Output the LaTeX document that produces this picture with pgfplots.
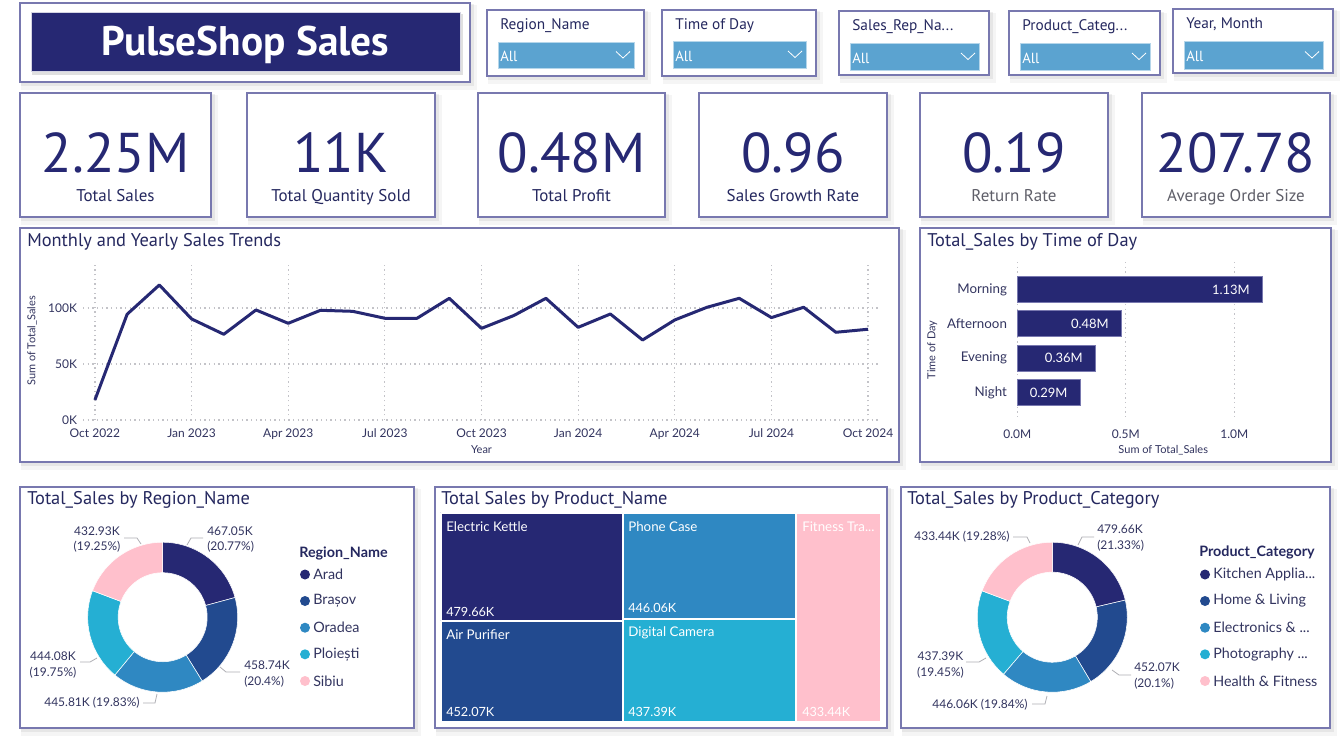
\documentclass[border=0pt]{standalone}
\usepackage{fontspec}
\setmainfont{Lato}
\newfontfamily\din{PT Sans}
\usepackage{pgfplots}
\pgfplotsset{compat=1.18}
\definecolor{navy}{RGB}{38,40,115}
\definecolor{c2}{RGB}{34,74,143}
\definecolor{c3}{RGB}{47,136,194}
\definecolor{c4}{RGB}{37,175,211}
\definecolor{c5}{RGB}{255,192,204}
\definecolor{border}{RGB}{120,120,175}
\definecolor{txt}{RGB}{37,40,95}
\definecolor{tickc}{RGB}{50,52,95}
\definecolor{ddfill}{RGB}{91,163,208}
\definecolor{gridc}{RGB}{195,195,200}
\definecolor{graytxt}{RGB}{95,95,105}
\definecolor{leader}{RGB}{175,175,180}

\newcommand\panel[4]{%
  \fill[black,opacity=0.04] (#1+1,#2+2) rectangle (#3+7,#4+8);
  \fill[black,opacity=0.06] (#1+1,#2+1) rectangle (#3+4,#4+4);
  \filldraw[fill=white,draw=border,line width=0.9pt] (#1,#2) rectangle (#3,#4);}
\newcommand\filt[7]{%
  \panel{#1}{#2}{#3}{#4}
  \node[anchor=west,inner sep=0pt,font=\din\fontsize{11.5}{12}\selectfont,text=txt] at (#1+13,#2+15.5) {#5};
  \filldraw[fill=ddfill,draw=ddfill!45,line width=0.6pt] (#1+11,#6) rectangle (#3-10,#7);
  \node[anchor=west,inner sep=0pt,font=\din\fontsize{11}{11}\selectfont,text=white] at (#1+13,{(#6+#7)/2+1.5}) {All};
  \draw[white,line width=0.6pt] (#3-28,{(#6+#7)/2-3.5}) -- ++(7,6.5) -- ++(7,-6.5);}
\newcommand\kpil[3]{%
  \node[font=\din\fontsize{12.75}{14}\selectfont,text=#3,inner sep=0pt,anchor=base] at (#1,201.5) {#2};}
\newcommand\ptitle[3]{%
  \node[anchor=west,inner sep=0pt,font=\din\fontsize{13.8}{15}\selectfont,text=txt] at (#1,#2+1.5) {#3};}
% donut drawn inside an axis from the percentage shares
\newcommand\donut[3]{%
  \pgfplotsextra{%
    \gdef\donutA{90}%
    \foreach \v/\c in {#1}{%
      \pgfmathsetmacro\donutB{\donutA-3.6*\v}%
      \pgfmathsetmacro\donutD{#3-#2}%
      \filldraw[fill=\c,draw=white,line width=0.4pt] (axis cs:0,0) ++(\donutA:#2pt)
        arc[start angle=\donutA,end angle=\donutB,radius=#2pt]
        -- ++(\donutB:\donutD pt)
        arc[start angle=\donutB,end angle=\donutA,radius=#3pt] -- cycle;
      \xdef\donutA{\donutB}%
    }}}

\begin{document}
\begin{tikzpicture}
\begin{scope}[x=0.75pt,y=-0.75pt]
\path[use as bounding box] (0,0) rectangle (1342,744);
\fill[white] (0,0) rectangle (1342,744);
% title
\panel{20}{3}{470}{82}
\fill[black,opacity=0.12] (32,14) rectangle (463,75);
\fill[navy] (31,12) rectangle (460,71);
\draw[white!80!navy,line width=0.6pt] (31,12) rectangle (460,71);
\node[font=\din\bfseries\fontsize{31}{32}\selectfont,text=white,inner sep=0pt,anchor=base] at (245.5,55) {PulseShop Sales};
% filters
\filt{487}{10}{644}{76}{Region\_Name}{42}{68}
\filt{662}{10}{816}{76}{Time of Day}{41}{68}
\filt{839}{11}{989}{75}{Sales\_Rep\_Na...}{43}{70}
\filt{1009}{11}{1160}{75}{Product\_Categ...}{43}{70}
\filt{1173}{9}{1333}{73}{Year, Month}{41}{69}
% KPI cards
\panel{20}{93}{211}{217}
\panel{247}{93}{435}{217}
\panel{478}{93}{665}{217}
\panel{699}{93}{887}{217}
\panel{920}{93}{1108}{217}
\panel{1142}{93}{1330}{217}
\begin{scope}[every node/.style={font=\din\fontsize{42}{44}\selectfont,text=navy,inner sep=0pt,anchor=base}]
\node at (115.5,172) {2.25M};
\node at (341,172) {11K};
\node at (571.5,172) {0.48M};
\node at (793,172) {0.96};
\node at (1014,172) {0.19};
\node at (1236,172) {207.78};
\end{scope}
\kpil{115.5}{Total Sales}{txt}
\kpil{341}{Total Quantity Sold}{txt}
\kpil{571.5}{Total Profit}{txt}
\kpil{793}{Sales Growth Rate}{txt}
\kpil{1014}{Return Rate}{graytxt}
\kpil{1236}{Average Order Size}{graytxt}
% chart panels
\panel{20}{228}{899}{462}
\panel{920}{228}{1331}{462}
\panel{20}{487}{414}{728}
\panel{435}{487}{887}{728}
\panel{901}{487}{1330}{728}
\ptitle{27}{240}{Monthly and Yearly Sales Trends}
\ptitle{927}{240}{Total\_Sales by Time of Day}
\ptitle{27}{498}{Total\_Sales by Region\_Name}
\ptitle{441}{498}{Total Sales by Product\_Name}
\ptitle{907}{498}{Total\_Sales by Product\_Category}
\end{scope}

% ---------- line chart ----------
\begin{axis}[
  at={(62.25pt,-315pt)}, anchor=south west,
  scale only axis, width=597.75pt, height=118.5pt,
  xmin=-0.37, xmax=24.37, ymin=0, ymax=141,
  axis line style={draw=none}, tick style={draw=none},
  xtick={0,3,6,9,12,15,18,21,24},
  xticklabels={Oct 2022,Jan 2023,Apr 2023,Jul 2023,Oct 2023,Jan 2024,Apr 2024,Jul 2024,Oct 2024},
  ytick={0,50,100}, yticklabels={0K,50K,100K},
  grid=major, major grid style={gridc, dash pattern=on 0.9pt off 2.6pt, line width=0.9pt},
  tick label style={font=\fontsize{9}{10}\selectfont, text=tickc},
  xticklabel style={yshift=-3pt},
  yticklabel style={xshift=-1pt},
  /pgf/number format/assume math mode=true,
  xlabel={Year}, ylabel={Sum of Total\_Sales},
  xlabel style={at={(axis description cs:0.5,-0.19)}, anchor=center, font=\fontsize{8.25}{9}\selectfont, text=tickc},
  ylabel style={at={(axis description cs:-0.064,0.5)}, anchor=center, font=\fontsize{8.25}{9}\selectfont, text=tickc},
  clip=false,
]
\addplot[navy, line width=2.25pt, line join=round] coordinates {
 (0,17.9) (1,94.4) (2,120.5) (3,90.2) (4,76.5) (5,98.2) (6,86.3) (7,97.9) (8,97.0)
 (9,90.8) (10,90.8) (11,108.6) (12,81.8) (13,93.2) (14,108.6) (15,82.7) (16,94.6)
 (17,71.4) (18,89.3) (19,100.6) (20,108.6) (21,91.4) (22,100.6) (23,78.3) (24,81.0)};
\end{axis}

% ---------- bar chart ----------
\begin{axis}[
  at={(763pt,-315pt)}, anchor=south west,
  scale only axis, width=203.4pt, height=118.5pt,
  xbar, bar width=19.5pt,
  xmin=0, xmax=1.25, ymin=-0.8, ymax=3.8, y dir=reverse,
  axis line style={draw=none}, tick style={draw=none},
  xtick={0,0.5,1}, xticklabels={0.0M,0.5M,1.0M},
  ytick={0,1,2,3}, yticklabels={Morning,Afternoon,Evening,Night},
  xmajorgrids, ymajorgrids=false, major grid style={gridc, dash pattern=on 0.9pt off 2.6pt, line width=0.9pt},
  xticklabel style={font=\fontsize{9}{10}\selectfont, text=tickc, yshift=-4pt},
  yticklabel style={font=\fontsize{10}{11}\selectfont, text=tickc},
  /pgf/number format/assume math mode=true,
  xlabel={Sum of Total\_Sales}, ylabel={Time of Day},
  xlabel style={at={(axis description cs:0.538,-0.19)}, anchor=center, font=\fontsize{8.25}{9}\selectfont, text=tickc},
  ylabel style={at={(axis description cs:-0.314,0.443)}, anchor=center, font=\fontsize{8.25}{9}\selectfont, text=tickc},
  clip=false,
]
\addplot[fill=navy, draw=border, line width=0.6pt] coordinates {(1.13,0) (0.48,1) (0.36,2) (0.29,3)};
\node[anchor=east,text=white,font=\fontsize{9.75}{10}\selectfont,xshift=-6pt] at (axis cs:1.13,0) {1.13M};
\node[anchor=east,text=white,font=\fontsize{9.75}{10}\selectfont,xshift=-6pt] at (axis cs:0.48,1) {0.48M};
\node[anchor=east,text=white,font=\fontsize{9.75}{10}\selectfont,xshift=-6pt] at (axis cs:0.36,2) {0.36M};
\node[anchor=east,text=white,font=\fontsize{9.75}{10}\selectfont,xshift=-6pt] at (axis cs:0.29,3) {0.29M};
\end{axis}

% ---------- region donut ----------
\begin{axis}[at={(122pt,-462.9pt)}, anchor=center, scale only axis,
  width=112.5pt, height=112.5pt, xmin=-1, xmax=1, ymin=-1, ymax=1, hide axis, clip=false]
\donut{20.77/navy,20.40/c2,19.83/c3,19.75/c4,19.25/c5}{56.25}{33.4}
\end{axis}

% ---------- category donut ----------
\begin{axis}[at={(789.2pt,-462.9pt)}, anchor=center, scale only axis,
  width=112.5pt, height=112.5pt, xmin=-1, xmax=1, ymin=-1, ymax=1, hide axis, clip=false]
\donut{21.33/navy,20.10/c2,19.84/c3,19.45/c4,19.28/c5}{56.25}{33.8}
\end{axis}

% ---------- treemap ----------
\begin{axis}[at={(330.5pt,-541.7pt)}, anchor=south west, scale only axis,
  width=330pt, height=157.2pt, xmin=0, xmax=2248.62, ymin=0, ymax=1, y dir=reverse,
  hide axis, clip=false]
\addplot[fill=navy, draw=white, line width=1.5pt] coordinates {(0,0) (931.73,0) (931.73,0.5148) (0,0.5148) (0,0)};
\addplot[fill=c2, draw=white, line width=1.5pt] coordinates {(0,0.5148) (931.73,0.5148) (931.73,1) (0,1) (0,0.5148)};
\addplot[fill=c3, draw=white, line width=1.5pt] coordinates {(931.73,0) (1815.18,0) (1815.18,0.5049) (931.73,0.5049) (931.73,0)};
\addplot[fill=c4, draw=white, line width=1.5pt] coordinates {(931.73,0.5049) (1815.18,0.5049) (1815.18,1) (931.73,1) (931.73,0.5049)};
\addplot[fill=c5, draw=white, line width=1.5pt] coordinates {(1815.18,0) (2248.62,0) (2248.62,1) (1815.18,1) (1815.18,0)};
\end{axis}

\begin{scope}[x=0.75pt,y=-0.75pt]
% treemap labels
\begin{scope}[every node/.style={anchor=west,inner sep=0pt,text=white}]
\node[font=\fontsize{10}{11}\selectfont] at (446,527) {Electric Kettle};
\node[font=\fontsize{9.5}{10}\selectfont] at (446,612) {479.66K};
\node[font=\fontsize{10}{11}\selectfont] at (446,635) {Air Purifier};
\node[font=\fontsize{9.5}{10}\selectfont] at (446,712) {452.07K};
\node[font=\fontsize{10}{11}\selectfont] at (628,527) {Phone Case};
\node[font=\fontsize{9.5}{10}\selectfont] at (628,608) {446.06K};
\node[font=\fontsize{10}{11}\selectfont] at (628,633) {Digital Camera};
\node[font=\fontsize{9.5}{10}\selectfont] at (628,712) {437.39K};
\node[font=\fontsize{10}{11}\selectfont] at (802,527) {Fitness Tra...};
\node[font=\fontsize{9.5}{10}\selectfont] at (802,712) {433.44K};
\end{scope}
% region donut labels
\begin{scope}[every node/.style={inner sep=0pt,text=tickc,font=\fontsize{9}{10}\selectfont}]
\draw[leader,line width=0.6pt] (124,538) -- (137,538) -- (141,544);
\node at (97,531) {432.93K}; \node at (97,547) {(19.25\%)};
\draw[leader,line width=0.6pt] (187,545) -- (191,538) -- (203,538);
\node[anchor=west] at (207,531) {467.05K}; \node[anchor=west] at (207,547) {(20.77\%)};
\draw[leader,line width=0.6pt] (220,667) -- (226,672) -- (240,672);
\node[anchor=west] at (244,665) {458.74K}; \node[anchor=west] at (244,682) {(20.4\%)};
\draw[leader,line width=0.6pt] (80,662) -- (90,662) -- (97,658);
\node at (53,656) {444.08K}; \node at (53,673) {(19.75\%)};
\draw[leader,line width=0.6pt] (143,703) -- (155,703) -- (157,694);
\node at (92,703) {445.81K (19.83\%)};
% legend
\node[anchor=west,font=\bfseries\fontsize{10.75}{11}\selectfont,text=txt] at (299,553) {Region\_Name};
\fill[navy] (305,574.5) circle (5);
\fill[c2] (305,601) circle (5);
\fill[c3] (305,627.7) circle (5);
\fill[c4] (305,654.3) circle (5);
\fill[c5] (305,681) circle (5);
\node[anchor=west,font=\fontsize{10.75}{11}\selectfont] at (313,574.5) {Arad};
\node[anchor=west,font=\fontsize{10.75}{11}\selectfont] at (313,601) {Brașov};
\node[anchor=west,font=\fontsize{10.75}{11}\selectfont] at (313,627.7) {Oradea};
\node[anchor=west,font=\fontsize{10.75}{11}\selectfont] at (313,654.3) {Ploiești};
\node[anchor=west,font=\fontsize{10.75}{11}\selectfont] at (313,681) {Sibiu};
% category donut labels
\draw[leader,line width=0.6pt] (1013,537) -- (1027,537) -- (1030,543);
\node at (962,537) {433.44K (19.28\%)};
\draw[leader,line width=0.6pt] (1078,545) -- (1082,537) -- (1094,537);
\node[anchor=west] at (1097,529.5) {479.66K}; \node[anchor=west] at (1097,546) {(21.33\%)};
\draw[leader,line width=0.6pt] (1112,670) -- (1119,675) -- (1131,675);
\node[anchor=west] at (1134,667) {452.07K}; \node[anchor=west] at (1134,683.5) {(20.1\%)};
\draw[leader,line width=0.6pt] (966,662) -- (979,662) -- (986,658);
\node at (940.5,656) {437.39K}; \node at (940.5,673) {(19.45\%)};
\draw[leader,line width=0.6pt] (1032,704) -- (1045,704) -- (1047,696);
\node at (980,704.5) {446.06K (19.84\%)};
\node[anchor=west,font=\bfseries\fontsize{10.75}{11}\selectfont,text=txt] at (1199,552.5) {Product\_Category};
\fill[navy] (1205,574.5) circle (5);
\fill[c2] (1205,601) circle (5);
\fill[c3] (1205,627.7) circle (5);
\fill[c4] (1205,654.3) circle (5);
\fill[c5] (1205,681) circle (5);
\node[anchor=west,font=\fontsize{10.75}{11}\selectfont] at (1213,574.5) {Kitchen Applia...};
\node[anchor=west,font=\fontsize{10.75}{11}\selectfont] at (1213,601) {Home \& Living};
\node[anchor=west,font=\fontsize{10.75}{11}\selectfont] at (1213,627.7) {Electronics \& ...};
\node[anchor=west,font=\fontsize{10.75}{11}\selectfont] at (1213,654.3) {Photography ...};
\node[anchor=west,font=\fontsize{10.75}{11}\selectfont] at (1213,681) {Health \& Fitness};
\end{scope}
\end{scope}
\end{tikzpicture}
\end{document}
